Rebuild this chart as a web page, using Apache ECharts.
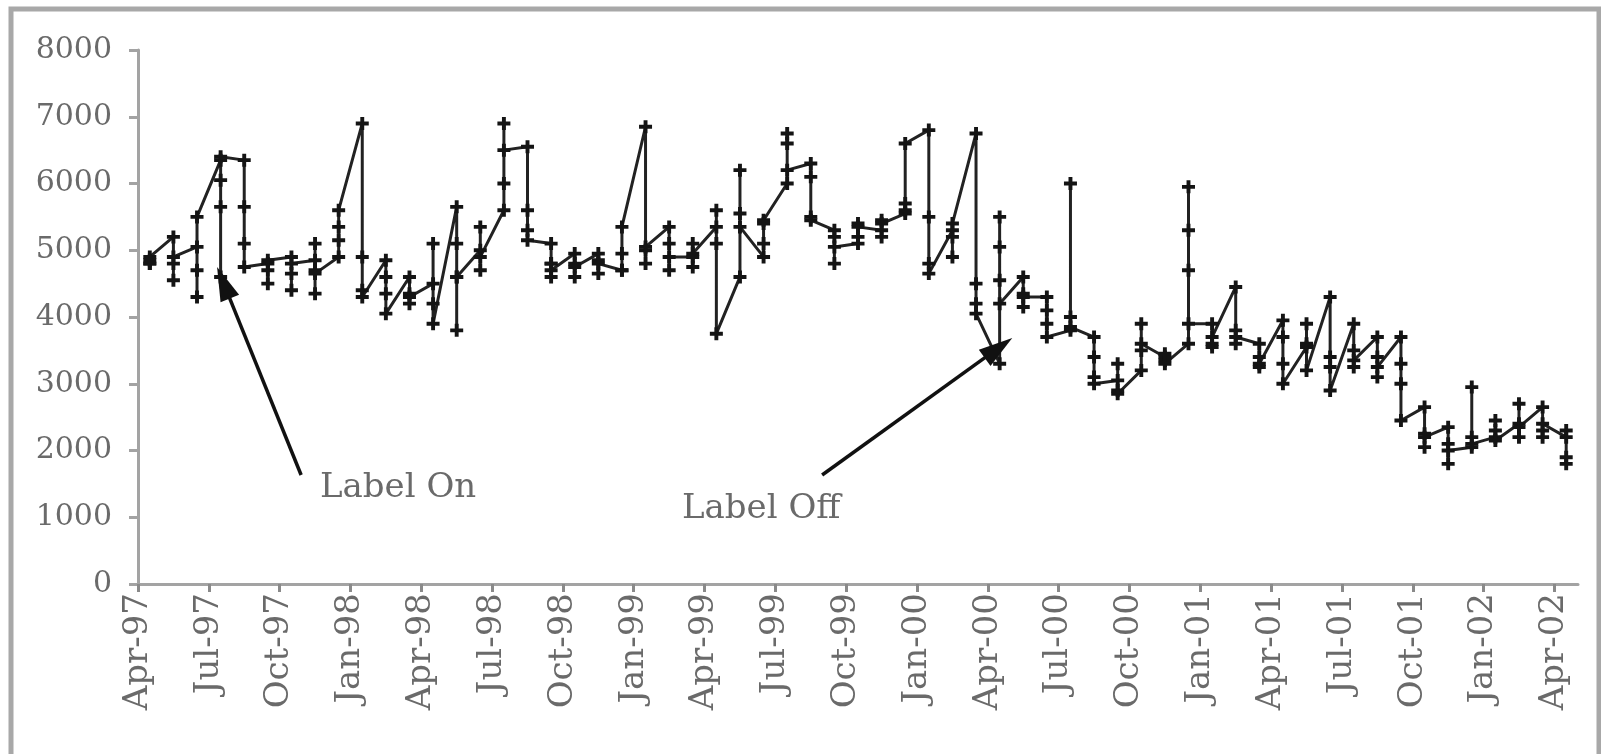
<!DOCTYPE html>
<html>
<head>
<meta charset="utf-8">
<script src="https://cdn.jsdelivr.net/npm/echarts@6/dist/echarts.min.js"></script>
<style>
html,body{margin:0;padding:0;background:#fff;}
#c{width:1601px;height:754px;}
</style>
</head>
<body>
<div id="c"></div>
<script>
// Quarterly tick labels (every 3rd month slot starting Apr-97)
const tickLabels = ['Apr-97','Jul-97','Oct-97','Jan-98','Apr-98','Jul-98','Oct-98','Jan-99','Apr-99','Jul-99','Oct-99','Jan-00','Apr-00','Jul-00','Oct-00','Jan-01','Apr-01','Jul-01','Oct-01','Jan-02','Apr-02'];

// Weekly values grouped by month (each inner list = weeks of one month)
const weeks1997 = [ // Apr-97 .. Dec-97
  [4800, 4850, 4800, 4900],
  [5200, 4800, 4550, 4900],
  [5050, 4700, 4300, 5500],
  [6350, 4600, 5650, 6050, 6400],
  [6350, 5650, 5100, 4750],
  [4800, 4500, 4700, 4850],
  [4900, 4650, 4400, 4800],
  [4850, 5100, 4700, 4350, 4650],
  [4900, 5150, 5350, 5600]
];
const weeks1998 = [ // Jan-98 .. Dec-98
  [6900, 4900, 4400, 4300],
  [4850, 4600, 4350, 4050],
  [4600, 4350, 4200, 4300],
  [4500, 5100, 4200, 3900],
  [5650, 5100, 4600, 3800, 4600],
  [5000, 5350, 4700, 4900],
  [5600, 6000, 6900, 6500],
  [6550, 5600, 5300, 5150],
  [5100, 4800, 4600, 4800, 4700],
  [4950, 4800, 4600, 4750],
  [4950, 4650, 4850, 4800],
  [4700, 4950, 4700, 5350]
];
const weeks1999 = [ // Jan-99 .. Dec-99
  [6850, 5000, 4800, 5050],
  [5350, 5100, 4700, 4900],
  [4900, 5100, 4750, 4950],
  [5350, 5600, 5100, 3750],
  [4600, 6200, 5550, 5350],
  [4900, 5100, 5400, 5450],
  [6000, 6750, 6600, 6200],
  [6300, 6100, 5500, 5450],
  [5300, 5200, 4800, 5050],
  [5100, 5400, 5200, 5350],
  [5300, 5450, 5200, 5400],
  [5550, 5700, 5600, 6600]
];
const weeks2000 = [ // Jan-00 .. Dec-00
  [6800, 5500, 4800, 4650],
  [5300, 4900, 5200, 5400],
  [6750, 4500, 4200, 4050],
  [3300, 5500, 5050, 4550, 4200],
  [4600, 4350, 4150, 4300],
  [4300, 4100, 3900, 3700],
  [3800, 6000, 4000, 3850],
  [3700, 3400, 3100, 3000],
  [3050, 3300, 2900, 2850],
  [3200, 3900, 3500, 3600],
  [3400, 3350, 3450, 3300],
  [3600, 5950, 5300, 4700, 3900]
];
const weeks2001 = [ // Jan-01 .. Dec-01
  [3900, 3600, 3550, 3700],
  [4450, 3800, 3600, 3700],
  [3600, 3400, 3250, 3300],
  [3950, 3700, 3300, 3000],
  [3550, 3900, 3600, 3200],
  [4300, 3400, 3250, 2900],
  [3900, 3500, 3250, 3350],
  [3700, 3400, 3100, 3250],
  [3700, 3300, 3000, 2450],
  [2650, 2250, 2050, 2200],
  [2350, 2100, 1800, 2000],
  [2050, 2950, 2200, 2100]
];
const weeks2002 = [ // Jan-02 .. Apr-02
  [2200, 2450, 2300, 2150],
  [2400, 2700, 2200, 2350],
  [2650, 2300, 2200, 2400],
  [2200, 1900, 2300, 1800]
];

const months = [].concat(weeks1997, weeks1998, weeks1999, weeks2000, weeks2001, weeks2002);
const points = [];
months.forEach((wk, k) => wk.forEach(v => points.push([k + 0.5, v])));
const tickPos = tickLabels.map((_, i) => i * 3);

const chart = echarts.init(document.getElementById('c'), null, {renderer: 'canvas'});
const plus = 'path://M3.5,0h3v3.5h3.5v3h-3.5v3.5h-3v-3.5h-3.5v-3h3.5z';
chart.setOption({
  animation: false,
  backgroundColor: '#fff',
  grid: {left: 138, right: 23, top: 50, bottom: 170, containLabel: false},
  xAxis: {
    type: 'value', min: 0, max: 61,
    splitLine: {show: false},
    axisLine: {show: true, onZero: false, lineStyle: {color: '#a3a3a3', width: 3}},
    axisTick: {show: true, customValues: tickPos, length: 8, inside: false, lineStyle: {color: '#8a8a8a', width: 3}},
    axisLabel: {
      customValues: tickPos, rotate: 90, margin: 9,
      fontFamily: 'DejaVu Serif', fontSize: 34, color: '#6a6a6a',
      formatter: v => tickLabels[Math.round(v / 3)] || ''
    }
  },
  yAxis: {
    type: 'value', min: 0, max: 8000, interval: 1000,
    splitLine: {show: false},
    axisLine: {show: true, lineStyle: {color: '#a3a3a3', width: 3}},
    axisTick: {show: true, length: 9, lineStyle: {color: '#a3a3a3', width: 3}},
    axisLabel: {margin: 26, fontFamily: 'DejaVu Serif', fontSize: 30, color: '#6a6a6a',
      formatter: v => String(v)}
  },
  series: [{
    type: 'line',
    data: points,
    showAllSymbol: true,
    symbol: plus,
    symbolSize: 13,
    itemStyle: {color: '#141414'},
    lineStyle: {color: '#222', width: 3},
    emphasis: {disabled: true},
    silent: true,
    markLine: {
      silent: true,
      symbol: ['none', 'triangle'],
      label: {show: false},
      lineStyle: {color: '#111', width: 3.5, type: 'solid'},
      emphasis: {disabled: true},
      data: [
        [{coord: [6.91, 1633], symbol: 'none'}, {coord: [3.62, 4512], symbol: 'triangle', symbolSize: [20, 34]}],
        [{coord: [28.98, 1633], symbol: 'none'}, {coord: [36.45, 3537], symbol: 'triangle', symbolSize: [20, 34]}]
      ]
    }
  }],
  graphic: [
    {type: 'rect', silent: true, shape: {x: 11, y: 9, width: 1588, height: 800},
     style: {fill: 'none', stroke: '#a8a8a8', lineWidth: 5}},
    {type: 'text', silent: true, style: {x: 320, y: 488, text: 'Label On', font: '34px "DejaVu Serif"', fill: '#6a6a6a', verticalAlign: 'middle'}},
    {type: 'text', silent: true, style: {x: 682, y: 509, text: 'Label Off', font: '34px "DejaVu Serif"', fill: '#6a6a6a', verticalAlign: 'middle'}}
  ]
});
</script>
</body>
</html>
